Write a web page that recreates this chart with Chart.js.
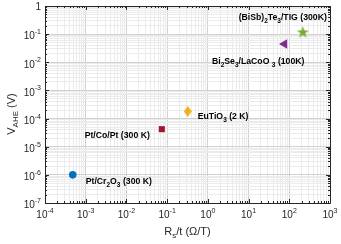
<!DOCTYPE html>
<html>
<head>
<meta charset="utf-8">
<script src="https://cdn.jsdelivr.net/npm/chart.js@4.4.1/dist/chart.umd.min.js"></script>
<style>
  html, body { margin: 0; padding: 0; background: #fff; }
  #wrap { width: 341px; height: 244px; }
</style>
</head>
<body>
<div id="wrap"><canvas id="chart"></canvas></div>
<script>
// data ("_" marks a one-character subscript)
const materials = ['Pt/Cr_2O_3 (300 K)', 'Pt/Co/Pt (300 K)', 'EuTiO_3 (2 K)', 'Bi_2Se_3/LaCoO _3 (100K)', '(BiSb)_2Te_3/TIG (300K)'];
const rsOverT = [4.8e-4, 0.074, 0.32, 76, 215];
const vAhe = [1.0e-6, 4.2e-5, 1.8e-4, 0.045, 0.12];
const xTickExps = [-4, -3, -2, -1, 0, 1, 2, 3];
const yTickExps = [-7, -6, -5, -4, -3, -2, -1, 0];

// MATLAB default colours
const colors = ['#0072BD', '#A2142F', '#EDB120', '#7E2F8E', '#77AC30'];
// where each text label sits relative to its marker: [dx, dy, align]
const labelPlace = [[13, 7, 'left'], [-12, 6, 'right'], [10, 5, 'left'], [20, 18, 'right'], [24, -14, 'right']];

function makeShape(w, h, draw) {
  const c = document.createElement('canvas');
  c.width = w; c.height = h;
  const g = c.getContext('2d');
  draw(g, w, h);
  return c;
}
const diamond = makeShape(8, 11, (g, w, h) => {
  g.fillStyle = colors[2];
  g.beginPath();
  g.moveTo(w / 2, 0); g.lineTo(w, h / 2); g.lineTo(w / 2, h); g.lineTo(0, h / 2);
  g.closePath(); g.fill();
});
const star = makeShape(13, 13, (g, w, h) => {
  g.fillStyle = colors[4];
  g.beginPath();
  for (let i = 0; i < 10; i++) {
    const r = i % 2 ? 2.5 : 6.3;
    const a = -Math.PI / 2 + i * Math.PI / 5;
    const px = w / 2 + r * Math.cos(a), py = h / 2 + 0.6 + r * Math.sin(a);
    i ? g.lineTo(px, py) : g.moveTo(px, py);
  }
  g.closePath(); g.fill();
});
const pointStyles = ['circle', 'rect', diamond, 'triangle', star];
const pointSizes = [3.8, 4.3, 5, 5.5, 6];
const pointRot = [0, 0, 0, -90, 0];

function logTicks(exps) {
  const t = [];
  for (let i = 0; i < exps.length; i++) {
    const base = Math.pow(10, exps[i]);
    t.push({ value: base });
    if (i < exps.length - 1) for (let k = 2; k <= 9; k++) t.push({ value: k * base });
  }
  return t;
}
const isMajor = v => Math.abs(Math.log10(v) - Math.round(Math.log10(v))) < 1e-6;

function drawRich(ctx, str, x, y, align, size) {
  const parts = [];
  for (let i = 0; i < str.length; i++) {
    if (str[i] === '_' && i + 1 < str.length) { parts.push({ t: str[i + 1], sub: true }); i++; }
    else if (parts.length && !parts[parts.length - 1].sub) parts[parts.length - 1].t += str[i];
    else parts.push({ t: str[i], sub: false });
  }
  const font = s => 'bold ' + s + 'px "Liberation Sans", Arial, sans-serif';
  let total = 0;
  parts.forEach(p => { ctx.font = font(p.sub ? size * 0.75 : size); p.w = ctx.measureText(p.t).width; total += p.w; });
  let cx = align === 'right' ? x - total : align === 'center' ? x - total / 2 : x;
  ctx.textBaseline = 'middle';
  ctx.textAlign = 'left';
  parts.forEach(p => {
    ctx.font = font(p.sub ? size * 0.75 : size);
    ctx.fillText(p.t, cx, p.sub ? y + 3.5 : y);
    cx += p.w;
  });
}

function drawPow(ctx, exp, x, y, align, plainOne) {
  const bf = '10px "Liberation Sans", Arial, sans-serif';
  const ef = '7px "Liberation Sans", Arial, sans-serif';
  ctx.textBaseline = 'middle';
  ctx.textAlign = 'left';
  if (plainOne && exp === 0) {
    ctx.font = bf;
    const w = ctx.measureText('1').width;
    ctx.fillText('1', align === 'right' ? x - w : x - w / 2, y);
    return;
  }
  ctx.font = bf;
  const bw = ctx.measureText('10').width;
  ctx.font = ef;
  const es = String(exp);
  const ew = ctx.measureText(es).width;
  const tw = bw + ew;
  const sx = align === 'right' ? x - tw : x - tw / 2;
  ctx.font = bf;
  ctx.fillText('10', sx, y + 1.5);
  ctx.font = ef;
  ctx.fillText(es, sx + bw, y - 3);
}

const frame = {
  id: 'frame',
  afterDraw(chart) {
    const { ctx, chartArea: a, scales } = chart;
    const xs = scales.x, ys = scales.y;
    ctx.save();
    // box and inward ticks
    ctx.strokeStyle = '#262626';
    ctx.lineWidth = 1;
    ctx.beginPath();
    ctx.rect(Math.round(a.left) + 0.5, Math.round(a.top) + 0.5, Math.round(a.right - a.left), Math.round(a.bottom - a.top));
    logTicks(xTickExps).forEach(t => {
      const px = Math.round(xs.getPixelForValue(t.value)) + 0.5;
      const len = isMajor(t.value) ? 4 : 2;
      ctx.moveTo(px, a.bottom); ctx.lineTo(px, a.bottom - len);
      ctx.moveTo(px, a.top); ctx.lineTo(px, a.top + len);
    });
    logTicks(yTickExps).forEach(t => {
      const py = Math.round(ys.getPixelForValue(t.value)) + 0.5;
      const len = isMajor(t.value) ? 4 : 2;
      ctx.moveTo(a.left, py); ctx.lineTo(a.left + len, py);
      ctx.moveTo(a.right, py); ctx.lineTo(a.right - len, py);
    });
    ctx.stroke();

    // tick labels
    ctx.fillStyle = '#262626';
    xTickExps.forEach(e => drawPow(ctx, e, xs.getPixelForValue(Math.pow(10, e)), a.bottom + 11, 'center', false));
    yTickExps.forEach(e => drawPow(ctx, e, a.left - 4, ys.getPixelForValue(Math.pow(10, e)) + 1, 'right', true));

    // axis titles
    const tf = '11px "Liberation Sans", Arial, sans-serif';
    const sf = '8px "Liberation Sans", Arial, sans-serif';
    ctx.textBaseline = 'alphabetic';
    ctx.font = tf;
    const rW = ctx.measureText('R').width, rest = '/t (\u03A9/T)', restW = ctx.measureText(rest).width;
    ctx.font = sf;
    const sW = ctx.measureText('s').width;
    let tx = (a.left + a.right) / 2 - (rW + sW + restW) / 2;
    const ty = a.bottom + 32;
    ctx.font = tf; ctx.fillText('R', tx, ty); tx += rW;
    ctx.font = sf; ctx.fillText('s', tx, ty + 3); tx += sW;
    ctx.font = tf; ctx.fillText(rest, tx, ty);

    ctx.save();
    ctx.translate(15, 114);
    ctx.rotate(-Math.PI / 2);
    ctx.font = tf;
    const vW = ctx.measureText('V').width, vr = ' (V)', vrW = ctx.measureText(vr).width;
    ctx.font = sf;
    const aW = ctx.measureText('AHE').width;
    let vx = -(vW + aW + vrW) / 2;
    ctx.font = tf; ctx.fillText('V', vx, 0); vx += vW;
    ctx.font = sf; ctx.fillText('AHE', vx, 3); vx += aW;
    ctx.font = tf; ctx.fillText(vr, vx, 0);
    ctx.restore();

    // material labels
    ctx.fillStyle = '#000';
    materials.forEach((m, i) => {
      const px = xs.getPixelForValue(rsOverT[i]), py = ys.getPixelForValue(vAhe[i]);
      const [dx, dy, al] = labelPlace[i];
      drawRich(ctx, m, px + dx, py + dy, al, 8.7);
    });
    ctx.restore();
  }
};

const gridColor = c => (c.tick && isMajor(c.tick.value)) ? '#d0d0d0' : '#ebebeb';

new Chart(document.getElementById('chart'), {
  type: 'scatter',
  data: {
    datasets: materials.map((m, i) => ({
      label: m,
      data: [{ x: rsOverT[i], y: vAhe[i] }],
      pointStyle: pointStyles[i],
      pointRadius: pointSizes[i],
      rotation: pointRot[i],
      backgroundColor: colors[i],
      borderColor: colors[i],
      borderWidth: 0
    }))
  },
  options: {
    responsive: true,
    maintainAspectRatio: false,
    animation: false,
    events: [],
    layout: { padding: { left: 45, top: 5, right: 11, bottom: 41 } },
    plugins: { legend: { display: false }, tooltip: { enabled: false } },
    scales: {
      x: {
        type: 'logarithmic', min: 1e-4, max: 1e3,
        afterBuildTicks: axis => { axis.ticks = logTicks(xTickExps); },
        ticks: { display: false, autoSkip: false },
        grid: { color: gridColor, drawTicks: false },
        border: { display: false }
      },
      y: {
        type: 'logarithmic', min: 1e-7, max: 1,
        afterBuildTicks: axis => { axis.ticks = logTicks(yTickExps); },
        ticks: { display: false, autoSkip: false },
        grid: { color: gridColor, drawTicks: false },
        border: { display: false }
      }
    }
  },
  plugins: [frame]
});
</script>
</body>
</html>
